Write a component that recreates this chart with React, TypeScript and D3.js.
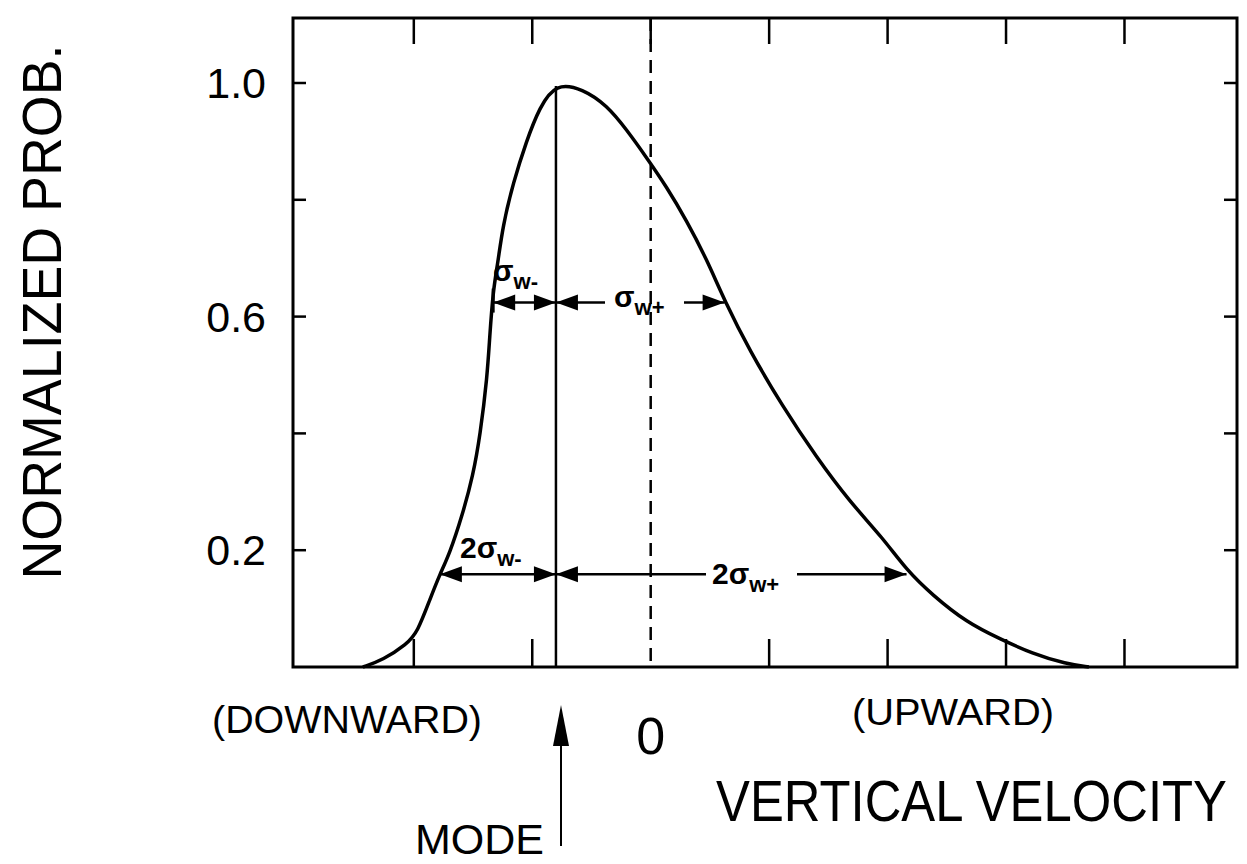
import React from "react";
import * as d3 from "d3";

const xTicks = [-2, -1, 0, 1, 2, 3, 4];
const yTicks = [0.2, 0.4, 0.6, 0.8, 1.0];
const yTickLabels = [0.2, 0.6, 1.0];

const curveX = [-2.43, -2.26, -2.06, -1.97, -1.86, -1.78, -1.7, -1.59, -1.5, -1.44, -1.38, -1.36, -1.33, -1.29, -1.25, -1.16, -1.05, -0.94, -0.8,
  -0.574, -0.371, -0.203, -0.034, 0.135, 0.304, 0.473, 0.624, 0.835, 1.114, 1.4, 1.68, 1.96, 2.16, 2.38, 2.67, 2.95, 3.22, 3.51, 3.7];
const curveY = [0, 0.012, 0.039, 0.059, 0.118, 0.159, 0.193, 0.26, 0.328, 0.397, 0.497, 0.564, 0.646, 0.692, 0.754, 0.83, 0.9, 0.958, 1.0,
  0.99, 0.962, 0.92, 0.872, 0.822, 0.764, 0.698, 0.627, 0.542, 0.446, 0.359, 0.283, 0.221, 0.166, 0.123, 0.076, 0.048, 0.023, 0.005, 0];

const modeX = -0.8;
const sigmaRowY = 0.624;
const sigmaMinusLeft = -1.33;
const sigmaPlusRight = 0.624;
const twoSigmaRowY = 0.159;
const twoMinusLeft = -1.78;
const twoPlusRight = 2.16;

const W = 1247, H = 864;
const L = 293, R = 1237, T = 18, B = 667;
const FONT = "'Liberation Sans', Arial, Helvetica, sans-serif";

export default function App() {
  const x = d3.scaleLinear().domain([-3.02, 4.95]).range([L, R]);
  const y = d3.scaleLinear().domain([0, 1.0]).range([B, 83]);
  const pts: [number, number][] = curveX.map((v, i) => [v, curveY[i]]);
  const line = d3.line<[number, number]>().x(d => x(d[0])).y(d => y(d[1])).curve(d3.curveBasis);

  const head = (tipX: number, tipY: number, dir: number, len = 22, hw = 8) =>
    `M${tipX},${tipY}L${tipX - dir * len},${tipY - hw}L${tipX - dir * len},${tipY + hw}Z`;

  const sy = y(sigmaRowY);
  const ty = y(twoSigmaRowY);
  const mx = x(modeX);

  return (
    <svg width={W} height={H} style={{ position: "absolute", left: 0, top: 0, background: "#fff" }}>
      <rect x={L} y={T} width={R - L} height={B - T} fill="none" stroke="#000" strokeWidth={3} />
      {xTicks.map(t => (
        <g key={"xt" + t}>
          <line x1={x(t)} x2={x(t)} y1={T} y2={T + 26} stroke="#000" strokeWidth={2.5} />
          {t !== 0 && <line x1={x(t)} x2={x(t)} y1={B} y2={B - 28} stroke="#000" strokeWidth={2.5} />}
        </g>
      ))}
      {yTicks.map(t => (
        <g key={"yt" + t}>
          <line x1={L} x2={L + 13} y1={y(t)} y2={y(t)} stroke="#000" strokeWidth={2.5} />
          <line x1={R} x2={R - 13} y1={y(t)} y2={y(t)} stroke="#000" strokeWidth={2.5} />
        </g>
      ))}
      {yTickLabels.map(t => (
        <text key={"yl" + t} x={266} y={y(t) + 15} textAnchor="end" fontFamily={FONT} fontSize={43}>
          {t.toFixed(1)}
        </text>
      ))}
      <line x1={x(0)} x2={x(0)} y1={T} y2={B} stroke="#000" strokeWidth={2.5} strokeDasharray="13 8" />
      <line x1={mx} x2={mx} y1={B} y2={y(0.995)} stroke="#000" strokeWidth={2.5} />
      <path d={line(pts) || ""} fill="none" stroke="#000" strokeWidth={3.5} />

      {/* sigma row */}
      <line x1={x(sigmaMinusLeft)} x2={mx} y1={sy} y2={sy} stroke="#000" strokeWidth={2.5} />
      <line x1={x(sigmaMinusLeft)} x2={x(sigmaMinusLeft)} y1={sy - 14} y2={sy + 10} stroke="#000" strokeWidth={3} />
      <path d={head(x(sigmaMinusLeft), sy, -1)} fill="#000" />
      <path d={head(mx, sy, 1)} fill="#000" />
      <line x1={mx} x2={605} y1={sy} y2={sy} stroke="#000" strokeWidth={2.5} />
      <line x1={684} x2={x(sigmaPlusRight)} y1={sy} y2={sy} stroke="#000" strokeWidth={2.5} />
      <path d={head(mx, sy, -1)} fill="#000" />
      <path d={head(x(sigmaPlusRight), sy, 1)} fill="#000" />
      <text x={493} y={sy - 22} fontFamily={FONT} fontWeight="bold" fontSize={30}>
        σ<tspan fontSize={22} dy={8}>w-</tspan>
      </text>
      <text x={614} y={sy + 4} fontFamily={FONT} fontWeight="bold" fontSize={30}>
        σ<tspan fontSize={22} dy={8}>w+</tspan>
      </text>

      {/* two sigma row */}
      <line x1={x(twoMinusLeft)} x2={mx} y1={ty} y2={ty} stroke="#000" strokeWidth={2.5} />
      <path d={head(x(twoMinusLeft), ty, -1)} fill="#000" />
      <path d={head(mx, ty, 1)} fill="#000" />
      <line x1={mx} x2={706} y1={ty} y2={ty} stroke="#000" strokeWidth={2.5} />
      <line x1={797} x2={x(twoPlusRight)} y1={ty} y2={ty} stroke="#000" strokeWidth={2.5} />
      <path d={head(mx, ty, -1)} fill="#000" />
      <path d={head(x(twoPlusRight), ty, 1)} fill="#000" />
      <text x={460} y={ty - 16} fontFamily={FONT} fontWeight="bold" fontSize={30}>
        2σ<tspan fontSize={22} dy={8}>w-</tspan>
      </text>
      <text x={712} y={ty + 10} fontFamily={FONT} fontWeight="bold" fontSize={30}>
        2σ<tspan fontSize={22} dy={8}>w+</tspan>
      </text>

      {/* axis titles */}
      <text transform={`translate(61,312) rotate(-90)`} textAnchor="middle" fontFamily={FONT} fontSize={55}
        textLength={535} lengthAdjust="spacingAndGlyphs">NORMALIZED PROB.</text>
      <text x={212} y={733} fontFamily={FONT} fontSize={38} textLength={270} lengthAdjust="spacingAndGlyphs">(DOWNWARD)</text>
      <text x={x(0)} y={754} textAnchor="middle" fontFamily={FONT} fontSize={52}>0</text>
      <text x={852} y={725} fontFamily={FONT} fontSize={36} textLength={202} lengthAdjust="spacingAndGlyphs">(UPWARD)</text>
      <text transform="translate(716,821) scale(0.876,1)" fontFamily={FONT} fontSize={58}>VERTICAL VELOCITY</text>
      <text x={415} y={854} fontFamily={FONT} fontSize={43}>MODE</text>

      <line x1={561} x2={561} y1={846} y2={740} stroke="#000" strokeWidth={2} />
      <path d={`M561,705L553,746L569,746Z`} fill="#000" />
    </svg>
  );
}
